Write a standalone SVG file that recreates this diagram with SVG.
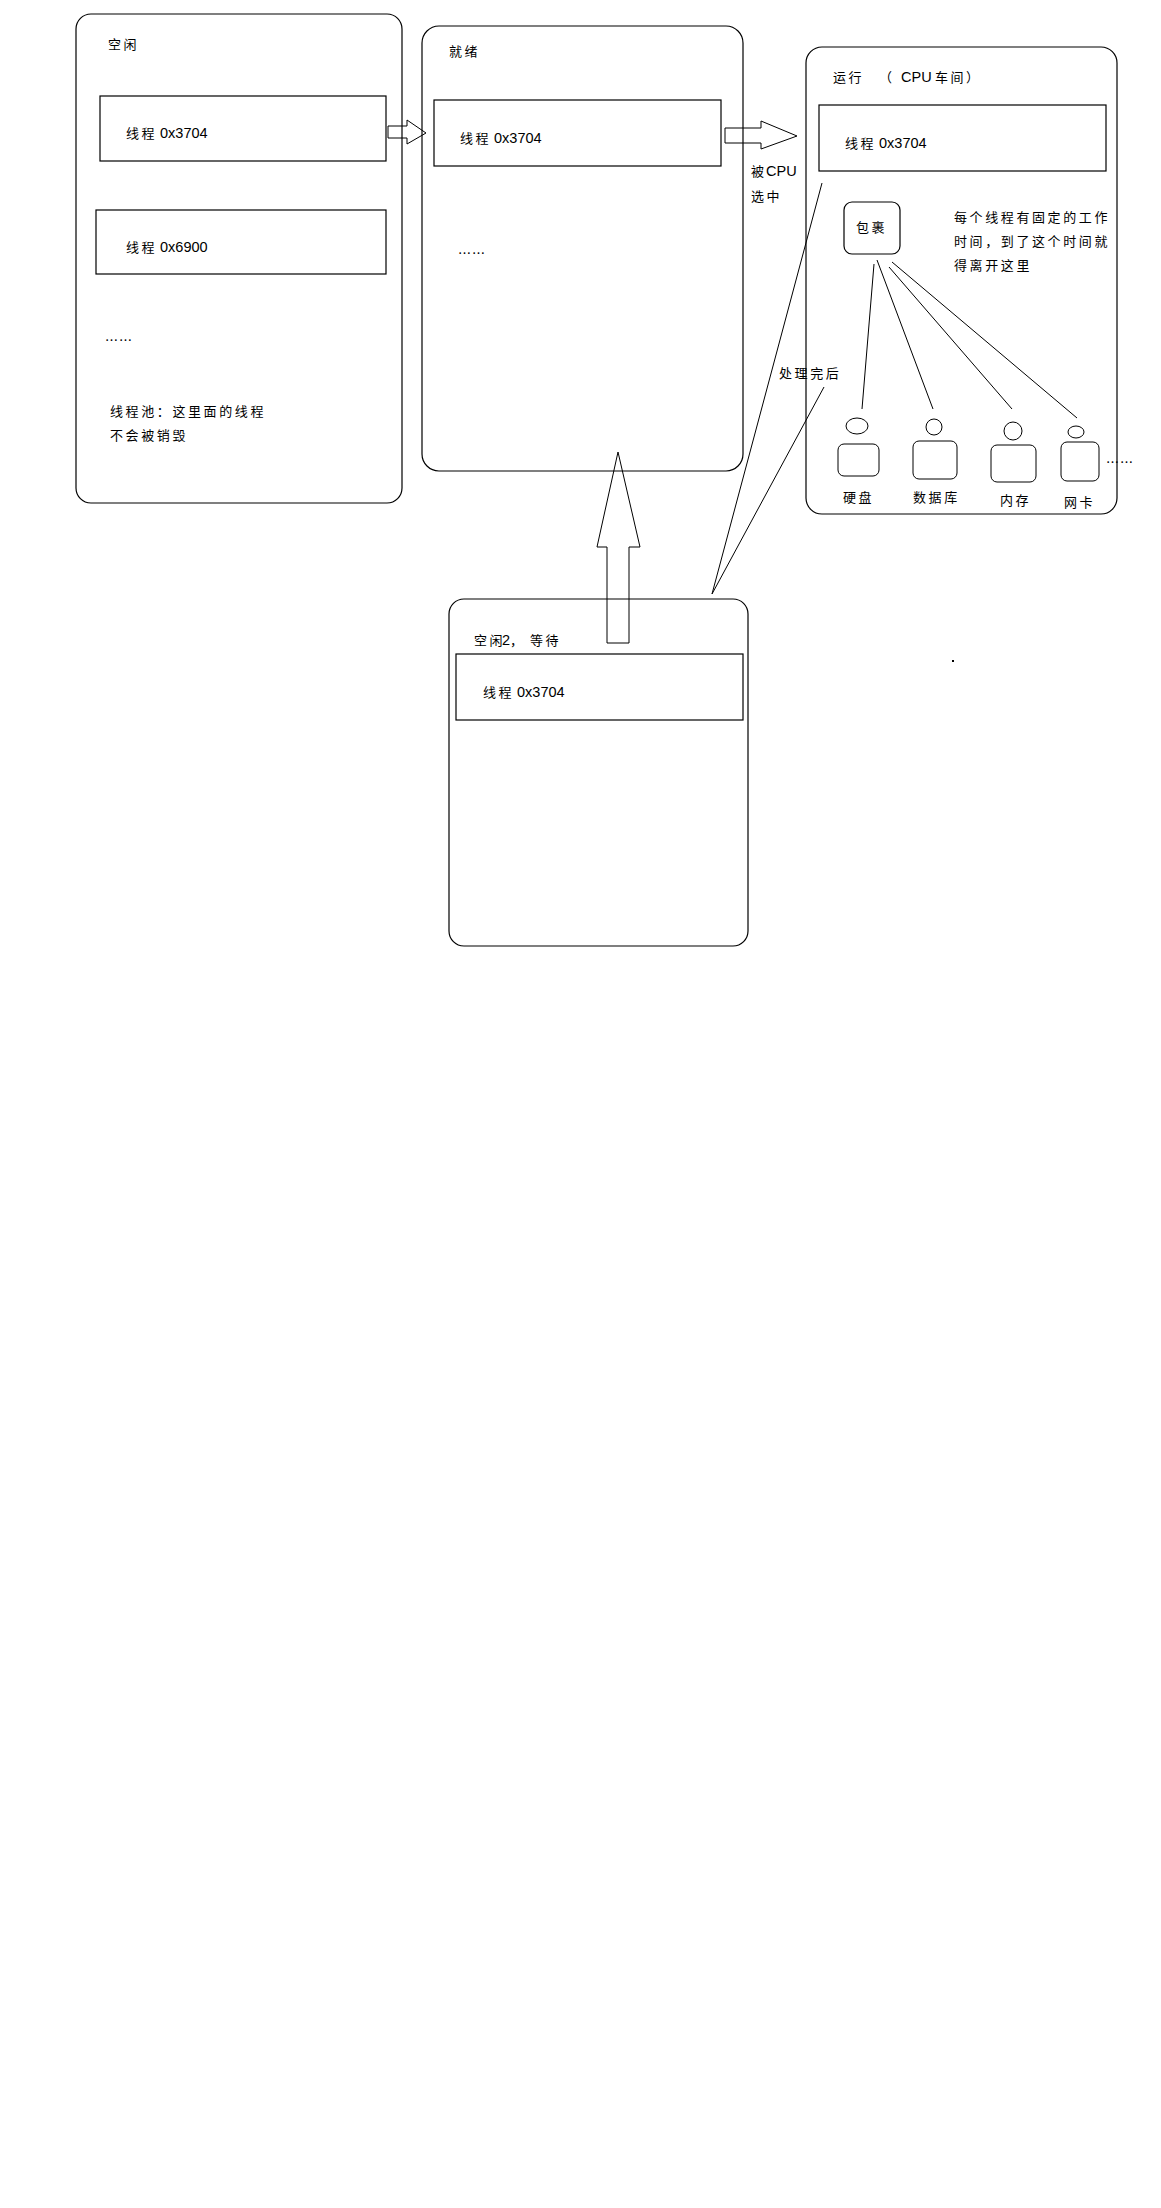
<svg xmlns="http://www.w3.org/2000/svg" width="1161" height="2208" viewBox="0 0 1161 2208">
<style>
.b{fill:none;stroke:#000;stroke-width:1.2}
.t{font-family:"Liberation Sans","Noto Sans CJK SC",sans-serif;font-size:13px;fill:#000;letter-spacing:2.6px}
.d{font-family:"Liberation Sans","Noto Sans CJK SC",sans-serif;font-size:14.5px;fill:#000;letter-spacing:0}
.e{font-family:"Noto Sans CJK SC",sans-serif;font-size:13px;fill:#000;letter-spacing:1px}
.l{fill:none;stroke:#000;stroke-width:1}
</style>
<rect width="1161" height="2208" fill="#fff"/>
<g id="idle">
<rect class="b" x="76" y="14" width="326" height="489" rx="15"/>
<text class="t" x="108" y="49">空闲</text>
<rect class="b" x="100" y="96" width="286" height="65"/>
<text class="t" x="126" y="138">线程<tspan class="d" x="160">0x3704</tspan></text>
<rect class="b" x="96" y="210" width="290" height="64"/>
<text class="t" x="126" y="252">线程<tspan class="d" x="160">0x6900</tspan></text>
<text class="e" x="105" y="345">……</text>
<text class="t" x="110" y="416">线程池：这里面的线程</text>
<text class="t" x="110" y="440">不会被销毁</text>
</g>
<g id="ready">
<rect class="b" x="422" y="26" width="321" height="445" rx="17"/>
<text class="t" x="449" y="56">就绪</text>
<rect class="b" x="434" y="100" width="287" height="66"/>
<text class="t" x="460" y="143">线程<tspan class="d" x="494">0x3704</tspan></text>
<text class="e" x="458" y="258">……</text>
</g>
<g id="running">
<rect class="b" x="806" y="47" width="311" height="467" rx="16"/>
<text class="t" x="833" y="82">运行<tspan x="879">（</tspan><tspan class="d" x="901">CPU</tspan><tspan x="935">车间</tspan><tspan x="966">）</tspan></text>
<rect class="b" x="819" y="105" width="287" height="66"/>
<text class="t" x="845" y="148">线程<tspan class="d" x="879">0x3704</tspan></text>
<rect class="b" x="844" y="202" width="56" height="52" rx="8"/>
<text class="t" x="856" y="232">包裹</text>
<text class="t" x="954" y="222">每个线程有固定的工作</text>
<text class="t" x="954" y="246">时间，到了这个时间就</text>
<text class="t" x="954" y="270">得离开这里</text>
<g id="disk">
<ellipse class="l" cx="857" cy="426" rx="11" ry="8"/>
<rect class="l" x="838" y="444" width="41" height="32" rx="6"/>
<text class="t" x="843" y="502">硬盘</text>
</g>
<g id="db">
<ellipse class="l" cx="934" cy="427" rx="8" ry="8"/>
<rect class="l" x="913" y="441" width="44" height="38" rx="6"/>
<text class="t" x="913" y="502">数据库</text>
</g>
<g id="mem">
<ellipse class="l" cx="1013" cy="431" rx="9" ry="9"/>
<rect class="l" x="991" y="445" width="45" height="37" rx="6"/>
<text class="t" x="1000" y="505">内存</text>
</g>
<g id="nic">
<ellipse class="l" cx="1076" cy="432" rx="8" ry="6"/>
<rect class="l" x="1061" y="442" width="38" height="39" rx="6"/>
<text class="t" x="1064" y="507">网卡</text>
</g>
<text class="e" x="1106" y="467">……</text>
</g>
<g id="idle2">
<rect class="b" x="449" y="599" width="299" height="347" rx="15"/>
<text class="t" x="474" y="645">空闲<tspan class="d" x="502">2</tspan><tspan x="510">，</tspan><tspan x="530">等待</tspan></text>
<rect class="b" x="456" y="654" width="287" height="66"/>
<text class="t" x="483" y="697">线程<tspan class="d" x="517">0x3704</tspan></text>
</g>
<g id="connectors">
<path class="l" d="M388,126 H407 V120 L426,133 L407,144 V138 H388 Z" fill="#fff"/>
<path class="l" d="M725,128 H761 V121 L797,136 L761,149 V143 H725 Z" fill="#fff"/>
<text class="t" x="751" y="176">被<tspan class="d" x="766">CPU</tspan></text>
<text class="t" x="751" y="201">选中</text>
<path class="l" d="M607,643 V547 H597 L618,452 L640,547 H629 V643 Z"/>
<line class="l" x1="822" y1="183" x2="712" y2="594"/>
<line class="l" x1="824" y1="387" x2="712" y2="594"/>
<text class="t" x="779" y="378">处理完后</text>
<line class="l" x1="874" y1="264" x2="862" y2="409"/>
<line class="l" x1="877" y1="260" x2="933" y2="409"/>
<line class="l" x1="889" y1="267" x2="1012" y2="409"/>
<line class="l" x1="892" y1="262" x2="1077" y2="418"/>
</g>
<rect x="952" y="660" width="2" height="2" fill="#000"/>
</svg>
